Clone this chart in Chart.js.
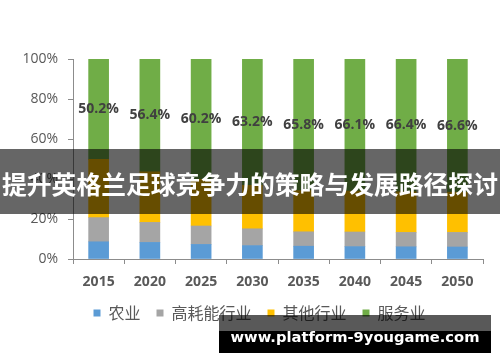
<!DOCTYPE html>
<html>
<head>
<meta charset="utf-8">
<script src="https://cdn.jsdelivr.net/npm/chart.js@4/dist/chart.umd.min.js"></script>
<style>
  html, body { margin: 0; padding: 0; background: #ffffff; }
  #wrap { position: relative; width: 500px; height: 362px; overflow: hidden; }
  #c { position: absolute; left: 0; top: 0; }
  #banner { position: absolute; left: 0; top: 149px; width: 500px; height: 65px; background: rgba(0,0,0,0.6); }
  #bannerText { position: absolute; left: 0; width: 500px; text-align: center; color: #ffffff; font-family: 'Noto Sans CJK SC', sans-serif; font-weight: bold; white-space: nowrap; }
  #wmGrey { position: absolute; left: 219px; top: 315px; width: 272px; height: 16px; background: rgba(0,0,0,0.65); }
  #wmBlack { position: absolute; left: 219px; top: 331px; width: 272px; height: 22px; background: #000000; }
  #wmText { position: absolute; left: 219px; width: 272px; text-align: center; color: #ffffff; font-family: 'DejaVu Sans', sans-serif; font-weight: bold; white-space: nowrap; }
</style>
</head>
<body>
<div id="wrap">
  <canvas id="c" width="500" height="362"></canvas>
  <div id="banner"></div>
  <div id="bannerText">提升英格兰足球竞争力的策略与发展路径探讨</div>
  <div id="wmGrey"></div>
  <div id="wmBlack"></div>
  <div id="wmText">www.platform-9yougame.com</div>
</div>
<script>
const categories = ['2015', '2020', '2025', '2030', '2035', '2040', '2045', '2050'];
const agriculture = [8.6, 8.3, 7.3, 6.7, 6.4, 6.2, 6.1, 6.0];
const heavyIndustry = [12.1, 10.0, 9.2, 8.4, 7.2, 7.3, 7.2, 7.3];
const otherIndustry = [29.1, 25.3, 23.3, 21.7, 20.6, 20.4, 20.3, 20.1];
const services = [50.2, 56.4, 60.2, 63.2, 65.8, 66.1, 66.4, 66.6];
const seriesNames = ['农业', '高耗能行业', '其他行业', '服务业'];
const yTicks = [0, 20, 40, 60, 80, 100];

const axisColor = '#8c8c8c';
const textColor = '#595959';

const serviceLabels = {
  id: 'serviceLabels',
  afterDatasetsDraw(chart) {
    const ctx = chart.ctx;
    const idx = chart.data.datasets.length - 1;
    const meta = chart.getDatasetMeta(idx);
    ctx.save();
    ctx.font = 'bold 14px "Open Sans", sans-serif';
    ctx.fillStyle = '#404040';
    ctx.textAlign = 'center';
    ctx.textBaseline = 'middle';
    meta.data.forEach((bar, i) => {
      const y = (bar.y + bar.base) / 2;
      ctx.fillText(services[i].toFixed(1) + '%', bar.x, y);
    });
    ctx.restore();
  }
};

// shift the legend so it is centred where the reference has it
const legendShift = {
  id: 'legendShift',
  afterLayout(chart) {
    if (chart.legend) {
      chart.legend.left += 18;
      chart.legend.right += 18;
    }
  }
};

function ds(label, data, color) {
  return { label, data, backgroundColor: color, borderWidth: 0, barThickness: 20 };
}

new Chart(document.getElementById('c'), {
  type: 'bar',
  data: {
    labels: categories,
    datasets: [
      ds(seriesNames[0], agriculture, '#5B9BD5'),
      ds(seriesNames[1], heavyIndustry, '#A5A5A5'),
      ds(seriesNames[2], otherIndustry, '#FFC000'),
      ds(seriesNames[3], services, '#70AD47')
    ]
  },
  options: {
    responsive: false,
    devicePixelRatio: 1,
    animation: false,
    layout: { padding: { top: 59, left: 0, right: 17, bottom: 31 } },
    plugins: {
      tooltip: { enabled: false },
      legend: {
        position: 'bottom',
        labels: {
          boxWidth: 7,
          boxHeight: 7,
          padding: 16,
          color: textColor,
          font: { family: '"Noto Sans CJK SC", sans-serif', size: 16 }
        }
      }
    },
    scales: {
      x: {
        stacked: true,
        afterFit(scale) { scale.height = 30; },
        grid: { drawOnChartArea: false, drawTicks: true, tickLength: 5, color: axisColor, offset: true },
        border: { color: axisColor },
        ticks: { color: textColor, padding: 10, font: { family: '"Open Sans", sans-serif', size: 14, weight: 'bold' } }
      },
      y: {
        stacked: true,
        min: 0,
        max: 100,
        afterFit(scale) { scale.width = 73; },
        afterBuildTicks(scale) { scale.ticks = yTicks.map(v => ({ value: v })); },
        grid: { drawOnChartArea: false, drawTicks: true, tickLength: 5, color: axisColor },
        border: { color: axisColor },
        ticks: { color: textColor, padding: 10, font: { family: '"Open Sans", sans-serif', size: 14 }, callback: v => v + '%' }
      }
    }
  },
  plugins: [serviceLabels, legendShift]
});

// Fit overlay texts to the widths seen in the reference
(function fitOverlays() {
  const m = document.createElement('canvas').getContext('2d');
  function fit(el, family, target) {
    m.font = 'bold 20px ' + family;
    const w = m.measureText(el.textContent).width;
    const size = 20 * target / w;
    el.style.fontSize = size.toFixed(2) + 'px';
    return size;
  }
  const b = document.getElementById('bannerText');
  const bs = fit(b, '"Noto Sans CJK SC"', 496);
  b.style.lineHeight = '1';
  b.style.top = (185 - bs / 2 - bs * 0.06) + 'px';
  const w = document.getElementById('wmText');
  const ws = fit(w, '"DejaVu Sans"', 249);
  w.style.lineHeight = '1';
  w.style.top = (339 - ws / 2 - ws * 0.1) + 'px';
})();
</script>
</body>
</html>
